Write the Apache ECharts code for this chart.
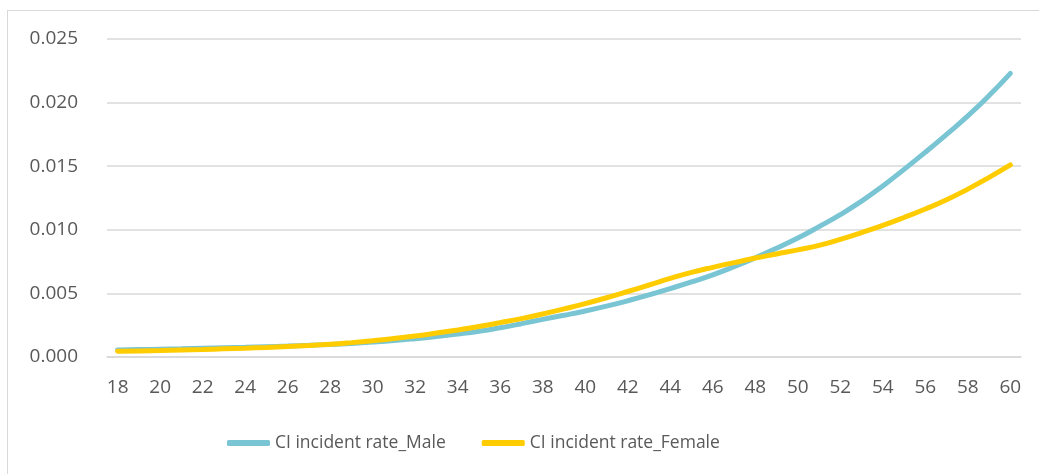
<!DOCTYPE html>
<html>
<head>
<meta charset="utf-8">
<script src="https://cdn.jsdelivr.net/npm/echarts@6/dist/echarts.min.js"></script>
<style>
  html, body { margin: 0; padding: 0; background: #ffffff; }
  #frame { position: absolute; left: 7px; top: 10px; width: 1100px; height: 520px; border: 1px solid #d9d9d9; box-sizing: border-box; }
  #chart { position: absolute; left: 0; top: 0; width: 1039px; height: 474px; }
</style>
</head>
<body>
<div id="frame"></div>
<div id="chart"></div>
<script>
// Age from 18 to 60
const ages = ['18','19','20','21','22','23','24','25','26','27','28','29','30','31','32','33','34','35','36','37','38','39',
  '40','41','42','43','44','45','46','47','48','49','50','51','52','53','54','55','56','57','58','59','60'];

// Critical illness incidence rate by age
const maleRate = [0.00055,0.00058,0.00061,0.00064,0.00068,0.00072,0.00076,0.00081,0.00086,0.00092,0.00099,0.00107,
  0.00117,0.00129,0.00144,0.00161,0.00180,0.00202,0.00230,0.00262,0.00296,0.00328,
  0.00362,0.00400,0.00442,0.00488,0.00538,0.00590,0.00646,0.00710,0.00780,0.00855,
  0.00935,0.01025,0.01120,0.01225,0.01345,0.01475,0.01610,0.01750,0.01895,0.02055,0.02230];

const femaleRate = [0.00045,0.00048,0.00051,0.00055,0.00059,0.00064,0.00069,0.00075,0.00082,0.00090,0.00100,0.00113,
  0.00128,0.00145,0.00165,0.00188,0.00213,0.00240,0.00270,0.00302,0.00338,0.00378,
  0.00420,0.00466,0.00515,0.00566,0.00618,0.00665,0.00705,0.00742,0.00778,0.00810,
  0.00842,0.00878,0.00925,0.00978,0.01035,0.01097,0.01163,0.01236,0.01320,0.01412,0.01510];

const seriesNames = ['CI incident rate_Male', 'CI incident rate_Female'];
const yMin = 0, yMax = 0.025, yStep = 0.005;

const font = '"Open Sans", "Liberation Sans", sans-serif';
const textGrey = '#595959';
const gridGrey = '#d9d9d9';
const maleColor = '#79c5d4';
const femaleColor = '#ffcc00';

const chart = echarts.init(document.getElementById('chart'), null, { renderer: 'canvas' });
chart.setOption({
  animation: false,
  backgroundColor: 'transparent',
  grid: { left: 107, right: 18, top: 39, bottom: 117, containLabel: false },
  legend: {
    left: 222,
    top: 429,
    itemWidth: 43,
    itemHeight: 6,
    itemGap: 36,
    icon: 'roundRect',
    textStyle: { fontFamily: font, fontSize: 17.5, color: textGrey },
    data: seriesNames
  },
  xAxis: {
    type: 'category',
    data: ages,
    boundaryGap: true,
    axisLine: { show: true, lineStyle: { color: gridGrey, width: 1.5 } },
    axisTick: { show: false },
    axisLabel: { interval: 1, margin: 21, fontFamily: font, fontSize: 19, color: textGrey }
  },
  yAxis: {
    type: 'value',
    min: yMin,
    max: yMax,
    interval: yStep,
    axisLine: { show: false },
    axisTick: { show: false },
    splitLine: { lineStyle: { color: gridGrey, width: 1.5 } },
    axisLabel: {
      margin: 29,
      fontFamily: font,
      fontSize: 19,
      color: textGrey,
      formatter: v => v.toFixed(3)
    }
  },
  series: [
    {
      name: seriesNames[0],
      type: 'line',
      data: maleRate,
      smooth: true,
      showSymbol: false,
      symbol: 'none',
      itemStyle: { color: maleColor },
      lineStyle: { color: maleColor, width: 5, cap: 'round' }
    },
    {
      name: seriesNames[1],
      type: 'line',
      data: femaleRate,
      smooth: true,
      showSymbol: false,
      symbol: 'none',
      itemStyle: { color: femaleColor },
      lineStyle: { color: femaleColor, width: 5, cap: 'round' }
    }
  ]
});
</script>
</body>
</html>
